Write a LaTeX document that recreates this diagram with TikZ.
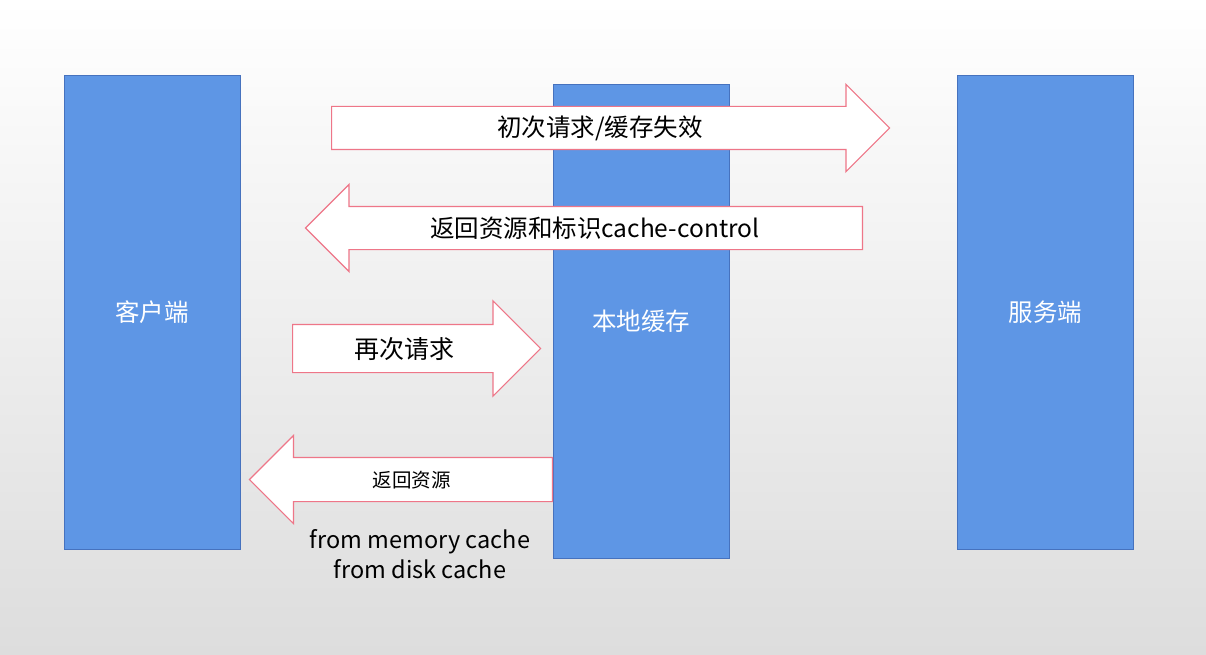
\documentclass[tikz,border=0pt]{standalone}
\usepackage{fontspec}
\setmainfont{Noto Sans CJK SC}
\usetikzlibrary{shapes.arrows,positioning}
\definecolor{boxblue}{RGB}{94,150,229}
\definecolor{boxedge}{RGB}{70,114,190}
\definecolor{arrowred}{RGB}{238,118,136}
\definecolor{bgbottom}{RGB}{221,221,221}

\begin{document}
\begin{tikzpicture}[x=1pt, y=-1pt,
    host/.style={rectangle, draw=boxedge, line width=0.8pt, fill=boxblue,
        text=white, minimum width=176pt, minimum height=474pt, inner sep=0pt,
        font=\fontsize{24.5}{29}\selectfont},
    bigarrow/.style={single arrow, draw=arrowred, line width=1.2pt, fill=white,
        single arrow tip angle=90, inner ysep=0pt, text height=30pt,
        text depth=12pt, single arrow head extend=22pt,
        font=\fontsize{24.5}{29}\selectfont},
    toleft/.style={shape border rotate=180}]
    % Background
    \shade [top color=white, bottom color=bgbottom] (0,0) rectangle (1206,655);

    % Nodes {client, cache, server}
    \node [host]  (client) at (152,312)    {客户端};
    \node [host]  (cache)  at (641,321)    {本地缓存};
    \node [host]  (server) at (1045.5,312) {服务端};

    % Arrows {first, back, again, hit}
    \node [bigarrow, minimum height=558pt, anchor=tail] (first) at (331,128) {初次请求/缓存失效};
    \node [bigarrow, toleft, minimum height=557pt, anchor=tail] (back) at (863,228) {返回资源和标识cache-control};
    \node [bigarrow, minimum height=248pt, anchor=tail, text height=33pt, text depth=14pt,
        single arrow head extend=23.5pt, font=\fontsize{25}{30}\selectfont] (again) at (292,348.5) {再次请求};
    \node [bigarrow, toleft, minimum height=303pt, anchor=tail, text height=29pt, text depth=14pt,
        font=\fontsize{19.5}{24}\selectfont] (hit) at (553,479.5) {返回资源};

    % Note
    \node [align=center, font=\fontsize{23.5}{30}\selectfont] (note) at (420,554) {from memory cache\\from disk cache};
\end{tikzpicture}
\end{document}
